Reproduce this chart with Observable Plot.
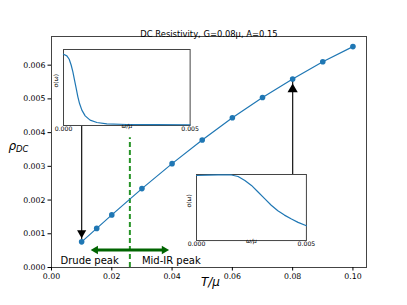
<!DOCTYPE html>
<html>
<head>
<meta charset="utf-8">
<script src="https://cdn.jsdelivr.net/npm/d3@7"></script>
<script src="https://cdn.jsdelivr.net/npm/@observablehq/plot@0.6"></script>
<style>
  html, body { margin: 0; padding: 0; background: white; }
  #wrap { position: relative; width: 407px; height: 305px; overflow: hidden; }
  #wrap svg { font-family: "DejaVu Sans", sans-serif; }
</style>
</head>
<body>
<div id="wrap"></div>
<script>
// ---- data ----
const title = "DC Resistivity, G=0.08\u03bc, A=0.15";
const T = [0.01, 0.015, 0.02, 0.03, 0.04, 0.05, 0.06, 0.07, 0.08, 0.09, 0.10];
const rho = [0.00076, 0.00116, 0.00156, 0.00234, 0.00308, 0.00378, 0.00444, 0.00504, 0.00559, 0.00610, 0.00655];
const xTicks = [0, 0.02, 0.04, 0.06, 0.08, 0.10];
const yTicks = [0, 0.001, 0.002, 0.003, 0.004, 0.005, 0.006];
const insetTicks = [0, 0.005];

// inset 1: Drude peak sigma(omega)
const omegaDrude = [0, 0.000133, 0.000225, 0.000304, 0.00037, 0.000435, 0.000501, 0.000567, 0.000633, 0.000725, 0.000856, 0.00105, 0.00132, 0.00171, 0.0025, 0.0036, 0.005];
const sigmaDrude = [0.938, 0.916, 0.872, 0.793, 0.706, 0.596, 0.487, 0.377, 0.289, 0.202, 0.127, 0.07, 0.039, 0.022, 0.013, 0.011, 0.01];
// inset 2: mid-IR peak sigma(omega)
const omegaMidIR = [0, 0.0005, 0.000985, 0.00135, 0.00159, 0.00189, 0.0022, 0.0025, 0.0028, 0.0031, 0.0034, 0.0037, 0.0040, 0.00432, 0.00462, 0.005];
const sigmaMidIR = [0.985, 0.99, 0.995, 0.996, 0.993, 0.97, 0.91, 0.835, 0.735, 0.635, 0.535, 0.45, 0.385, 0.325, 0.275, 0.225];

// annotations (data units)
const peakBoundaryT = 0.026;
const peakBoundaryTop = 0.00385;
const peakArrowT = [0.0146, 0.0374];
const peakArrowRho = 0.00052;
const peakLabels = ["Drude peak", "Mid-IR peak"];
const peakLabelT = [0.003, 0.030];
const peakLabelRho = 0.0001;
const arrowT = [0.01, 0.08];        // points that the insets point to

// ---- layout ----
const W = 407, H = 305;
const mL = 51, mR = 41, mT = 36, mB = 38;
const xDomain = [0, 0.1045];
const yDomain = [0, 0.00685];
const frameW = W - mL - mR, frameH = H - mT - mB;
// inset boxes as fractions of the main frame (left, top, width, height)
const insetBoxes = [
  {fx: 0.039, fy: 0.0576, fw: 0.402, fh: 0.329},
  {fx: 0.460, fy: 0.597, fw: 0.349, fh: 0.286}
];
const boxes = insetBoxes.map(b => ({
  x: mL + b.fx * frameW, y: mT + b.fy * frameH,
  w: b.fw * frameW, h: b.fh * frameH
}));
const yScale = Plot.scale({y: {domain: yDomain, range: [H - mB, mT]}});
// arrow start: inset1 bottom edge, inset2 top edge
const arrowFromRho = [yScale.invert(boxes[0].y + boxes[0].h), yScale.invert(boxes[1].y)];
const arrowToRho = arrowT.map(t => rho[T.indexOf(t)]);

const pts = T.map((t, i) => ({t, r: rho[i]}));
const blue = "#1f77b4";
const frameColor = "#444";

const main = Plot.plot({
  width: W, height: H,
  marginLeft: mL, marginRight: mR, marginTop: mT, marginBottom: mB,
  style: {fontFamily: "DejaVu Sans, sans-serif", fontSize: "7.8px", background: "white", color: "black"},
  x: {domain: xDomain},
  y: {domain: yDomain},
  marks: [
    Plot.frame({stroke: frameColor, strokeWidth: 1}),
    // green dashed boundary
    Plot.ruleX([peakBoundaryT], {x: d => d, y1: 0, y2: peakBoundaryTop, stroke: "green", strokeOpacity: 0.85, strokeWidth: 2, strokeDasharray: "5,3"}),
    // green double arrow
    Plot.link([0], {x1: peakArrowT[0], x2: peakArrowT[1], y1: peakArrowRho, y2: peakArrowRho, stroke: "darkgreen", strokeWidth: 3}),
    Plot.dot([0, 1], {x: i => peakArrowT[i], y: () => peakArrowRho, symbol: "triangle", r: 3.1, fill: "darkgreen", stroke: "none",
      rotate: i => i === 0 ? -90 : 90}),
    // main curve
    Plot.line(pts, {x: "t", y: "r", stroke: blue, strokeWidth: 1.2}),
    // black arrow shafts
    Plot.link([0, 1], {x1: i => arrowT[i], x2: i => arrowT[i], y1: i => arrowFromRho[i], y2: i => arrowToRho[i], stroke: "#222", strokeWidth: 1.3}),
    Plot.dot(pts, {x: "t", y: "r", r: 2.8, fill: blue, stroke: "none"}),
    // arrow heads
    Plot.dot([0], {x: arrowT[0], y: arrowToRho[0], symbol: "triangle", r: 3.4, fill: "black", stroke: "none", rotate: 180, dy: -9}),
    Plot.dot([0], {x: arrowT[1], y: arrowToRho[1], symbol: "triangle", r: 3.8, fill: "black", stroke: "none", rotate: 0, dy: 10.4}),
    // peak labels
    Plot.text(peakLabels, {x: (d, i) => peakLabelT[i], y: () => peakLabelRho, text: d => d, textAnchor: "start", fontSize: 10, dy: -3.2, fill: "black"}),
    // axes
    Plot.axisX({ticks: xTicks, tickFormat: d3.format(".2f"), tickSize: 3.5, tickPadding: 2, label: null, fontSize: 7.8}),
    Plot.axisY({ticks: yTicks, tickFormat: d3.format(".3f"), tickSize: 3.5, tickPadding: 2.5, label: null, fontSize: 7.8}),
    // title and axis labels
    Plot.text([title], {frameAnchor: "top", dy: -5.7, text: d => d, fontSize: 8.4, fill: "black"}),
    Plot.text(["T/\u03bc"], {frameAnchor: "bottom", dy: 18.2, dx: 1.5, text: d => d, fontSize: 12, fontStyle: "italic", fill: "black"}),
    Plot.text(["\u03c1"], {frameAnchor: "left", dx: -43, dy: -6.2, text: d => d, textAnchor: "start", fontSize: 12, fontStyle: "italic", fill: "black"}),
    Plot.text(["DC"], {frameAnchor: "left", dx: -35.5, dy: -2.4, text: d => d, textAnchor: "start", fontSize: 8.5, fontStyle: "italic", fill: "black"})
  ]
});

const wrap = document.getElementById("wrap");
wrap.appendChild(main);

function insetPlot(omega, sigma, box) {
  const m = {l: 14, r: 14, t: 3, b: 12};
  const p = Plot.plot({
    width: box.w + m.l + m.r, height: box.h + m.t + m.b,
    marginLeft: m.l, marginRight: m.r, marginTop: m.t, marginBottom: m.b,
    style: {background: "transparent", fontFamily: "DejaVu Sans, sans-serif", fontSize: "6px", overflow: "visible", color: "black"},
    x: {domain: [0, 0.005]},
    y: {domain: [0, 1], axis: null},
    marks: [
      Plot.frame({fill: "white", stroke: frameColor, strokeWidth: 1}),
      Plot.line(omega.map((w, i) => ({w, s: sigma[i]})), {x: "w", y: "s", stroke: blue, strokeWidth: 1.2}),
      Plot.axisX({ticks: insetTicks, tickFormat: d3.format(".3f"), tickSize: 0, tickPadding: 1.5, label: null, fontSize: 6.2}),
      Plot.text(["\u03c9/\u03bc"], {frameAnchor: "bottom", dy: 2.5, text: d => d, fontSize: 6, fontStyle: "italic", fill: "black"}),
      Plot.text(["\u03c3(\u03c9)"], {frameAnchor: "left", dx: -7, text: d => d, fontSize: 6, rotate: -90, fill: "black"})
    ]
  });
  p.style.position = "absolute";
  p.style.left = (box.x - m.l) + "px";
  p.style.top = (box.y - m.t) + "px";
  return p;
}

wrap.appendChild(insetPlot(omegaDrude, sigmaDrude, boxes[0]));
wrap.appendChild(insetPlot(omegaMidIR, sigmaMidIR, boxes[1]));
</script>
</body>
</html>
